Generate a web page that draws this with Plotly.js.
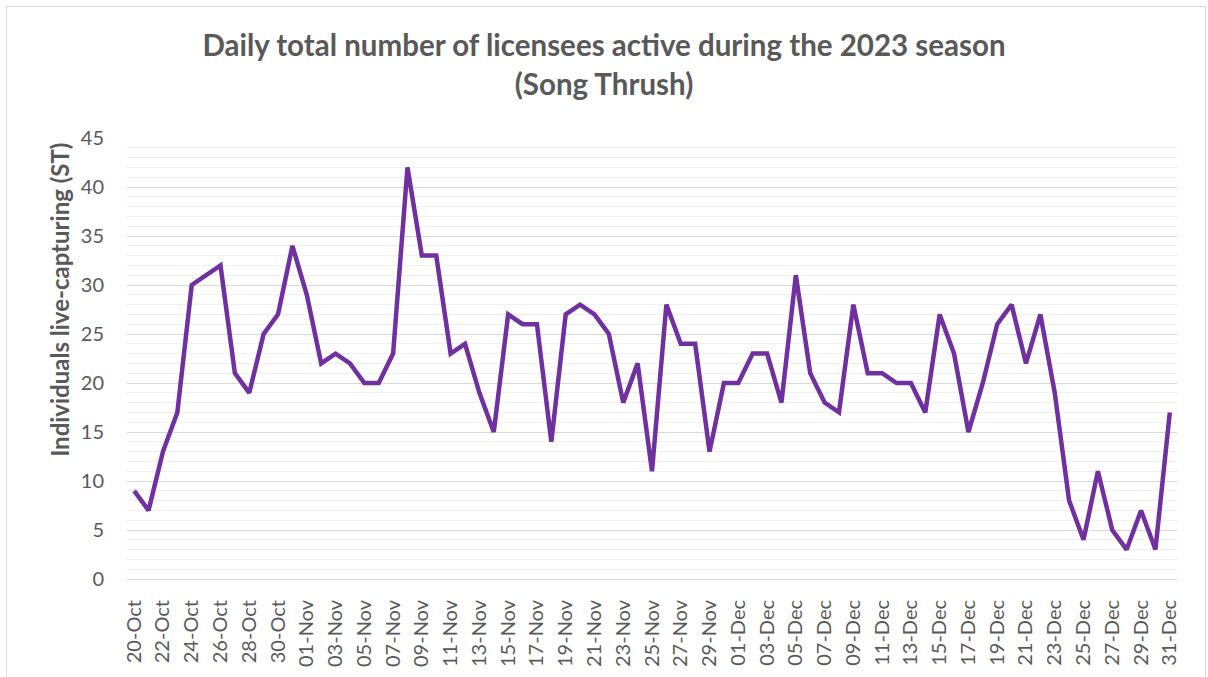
<!DOCTYPE html>
<html>
<head>
<meta charset="utf-8">
<script src="https://cdn.plot.ly/plotly-3.0.1.min.js"></script>
<style>
  html, body { margin: 0; padding: 0; background: #fff; }
  #wrap { position: relative; width: 1208px; height: 677px; }
  #chart { width: 1208px; height: 677px; }
  #frame { position: absolute; left: 6px; top: 6px; width: 1200px; height: 690px;
           border: 1px solid #d9d9d9; box-sizing: border-box; pointer-events: none; }
</style>
</head>
<body>
<div id="wrap"><div id="chart"></div><div id="frame"></div></div>
<script>
const octDays = ["20","21","22","23","24","25","26","27","28","29","30","31"];
const octValues = [9, 7, 13, 17, 30, 31, 32, 21, 19, 25, 27, 34];
const novValues = [29, 22, 23, 22, 20, 20, 23, 42, 33, 33, 23, 24, 19, 15, 27,
                   26, 26, 14, 27, 28, 27, 25, 18, 22, 11, 28, 24, 24, 13, 20];
const decValues = [20, 23, 23, 18, 31, 21, 18, 17, 28, 21, 21, 20, 20, 17, 27, 23,
                   15, 20, 26, 28, 22, 27, 19, 8, 4, 11, 5, 3, 7, 3, 17];

function pad(n) { return (n < 10 ? "0" : "") + n; }
const categories = [];
octDays.forEach(d => categories.push(d + "-Oct"));
for (let d = 1; d <= 30; d++) categories.push(pad(d) + "-Nov");
for (let d = 1; d <= 31; d++) categories.push(pad(d) + "-Dec");
const values = octValues.concat(novValues, decValues);

const tickLabels = categories.filter((c, i) => i % 2 === 0);
const yAxisTitle = "Individuals live-capturing (ST)";
const chartTitle = "Daily total number of licensees active during the 2023 season<br>(Song Thrush)";

const trace = {
  x: categories,
  y: values,
  type: "scatter",
  mode: "lines",
  line: { color: "#7030A0", width: 4.5 },
  hoverinfo: "x+y"
};

const layout = {
  width: 1208,
  height: 677,
  margin: { l: 127, r: 31, t: 138, b: 98 },
  paper_bgcolor: "#ffffff",
  plot_bgcolor: "#ffffff",
  showlegend: false,
  font: { family: "Lato, 'Open Sans', sans-serif", color: "#595959" },
  title: {
    text: "<b>" + chartTitle + "</b>",
    x: 0.5, xanchor: "center",
    yref: "container",
    y: 0.917, yanchor: "top",
    font: { family: "Lato, sans-serif", size: 29.5, color: "#595959" }
  },
  xaxis: {
    type: "category",
    range: [-0.5, 72.5],
    tickmode: "array",
    tickvals: tickLabels,
    ticktext: tickLabels,
    tickangle: -90,
    tickfont: { size: 20, color: "#595959" },
    ticklabelstandoff: 12,
    showgrid: false,
    showline: true,
    linecolor: "#d9d9d9",
    linewidth: 1,
    ticks: "",
    zeroline: false,
    fixedrange: true
  },
  yaxis: {
    range: [0, 45],
    tickmode: "linear",
    tick0: 0,
    dtick: 5,
    tickfont: { size: 20, color: "#595959" },
    ticklabelstandoff: 22,
    showgrid: true,
    gridcolor: "#d9d9d9",
    gridwidth: 1,
    minor: { dtick: 1, showgrid: true, gridcolor: "#f0f0f0", gridwidth: 1 },
    zeroline: false,
    showline: false,
    ticks: "",
    automargin: false,
    fixedrange: true
  },
  annotations: [{
    text: "<b>" + yAxisTitle + "</b>",
    textangle: -90,
    xref: "paper", x: 0, xanchor: "center", xshift: -67,
    yref: "paper", y: 0.633, yanchor: "middle",
    showarrow: false,
    font: { family: "Lato, sans-serif", size: 24, color: "#595959" }
  }]
};

Plotly.newPlot("chart", [trace], layout, { displayModeBar: false, staticPlot: true });
</script>
</body>
</html>
